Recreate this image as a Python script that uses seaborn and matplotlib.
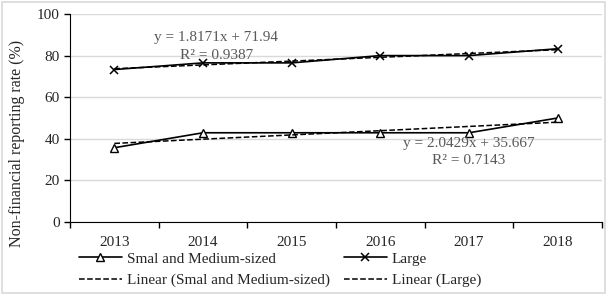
import numpy as np
import pandas as pd
import matplotlib
matplotlib.use("Agg")
import matplotlib.pyplot as plt
import seaborn as sns
from matplotlib.patches import Rectangle

# Data
years = ["2013", "2014", "2015", "2016", "2017", "2018"]
sme_rate = [35.7, 42.9, 42.9, 42.9, 42.9, 50.0]
large_rate = [73.3, 76.5, 76.5, 80.0, 80.0, 83.3]
sme_label = "Smal and Medium-sized"
large_label = "Large"

sns.set_style("white")
plt.rcParams["font.family"] = ["Liberation Serif", "DejaVu Serif"]

x = np.arange(len(years))
df = pd.DataFrame({"x": np.concatenate([x, x]),
                   "rate": sme_rate + large_rate,
                   "series": [sme_label] * 6 + [large_label] * 6})

fig = plt.figure(figsize=(6.09, 2.96), dpi=100)
ax = fig.add_axes([70 / 609, 1 - 222 / 296, 532 / 609, 208 / 296])

# outer chart border
fig.patches.append(Rectangle((0.004, 0.01), 0.99, 0.983, transform=fig.transFigure,
                             fill=False, edgecolor="#d9d9d9", linewidth=1.2))

sns.lineplot(data=df[df.series == sme_label], x="x", y="rate", ax=ax, color="black",
             linewidth=1.2, marker="^", markersize=5.5, markerfacecolor="white",
             markeredgecolor="black", markeredgewidth=1, label=sme_label)
sns.lineplot(data=df[df.series == large_label], x="x", y="rate", ax=ax, color="black",
             linewidth=1.2, marker="x", markersize=6, markeredgewidth=1.1,
             markeredgecolor="black", label=large_label)

# linear trends (x = 1..6 like Excel)
xs = x + 1
c_sme = np.polyfit(xs, sme_rate, 1)
c_large = np.polyfit(xs, large_rate, 1)
sns.lineplot(x=x, y=np.polyval(c_sme, xs), ax=ax, color="black", linestyle="--",
             linewidth=1.1, label="Linear (" + sme_label + ")")
sns.lineplot(x=x, y=np.polyval(c_large, xs), ax=ax, color="black", linestyle="--",
             linewidth=1.1, label="Linear (" + large_label + ")")

ax.text(1.15, 88.5, "y = 1.8171x + 71.94", ha="center", va="center", fontsize=11, color="#595959")
ax.text(1.15, 80, "R² = 0.9387", ha="center", va="center", fontsize=11, color="#595959")
ax.text(4.0, 37.5, "y = 2.0429x + 35.667", ha="center", va="center", fontsize=11, color="#595959")
ax.text(4.0, 29.5, "R² = 0.7143", ha="center", va="center", fontsize=11, color="#595959")

ax.set_xlim(-0.5, 5.5)
ax.set_ylim(0, 100)
ax.set_yticks(range(0, 101, 20))
ax.set_xticks(x)
ax.set_xticklabels(years)
ax.set_xticks(np.arange(-0.5, 6, 1), minor=True)
ax.tick_params(axis="x", which="major", length=0, labelsize=11, pad=10)
ax.tick_params(axis="x", which="minor", length=4, width=1, color="black", direction="out", bottom=True)
ax.tick_params(axis="y", length=4, width=1, color="black", direction="out", labelsize=11, left=True)
ax.grid(axis="y", color="#d9d9d9", linewidth=1)
ax.set_axisbelow(True)
for s in ["top", "right"]:
    ax.spines[s].set_visible(False)
ax.spines["left"].set_color("black")
ax.spines["bottom"].set_color("black")
ax.set_xlabel("")
ax.set_ylabel("")
fig.text(17 / 609, 1 - 143 / 296, "Non-financial reporting rate (%)", rotation=90,
         ha="center", va="center", fontsize=11.5)

# legend: row 1 series, row 2 trends
h, l = ax.get_legend_handles_labels()
order = [0, 2, 1, 3]
ax.legend([h[i] for i in order], [l[i] for i in order], loc="upper left",
          bbox_to_anchor=(0.005, -0.115), ncol=2, frameon=False,
          fontsize=11, handlelength=2.8, handletextpad=0.33, columnspacing=0.95,
          labelspacing=0.5, borderaxespad=0)

fig.savefig("out.png", dpi=100)
